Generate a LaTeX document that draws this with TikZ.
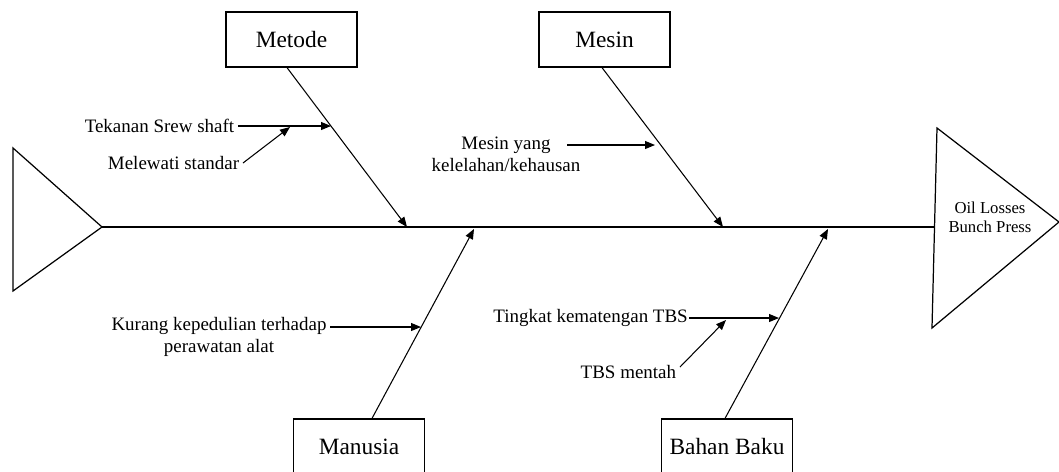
\documentclass[tikz,border=0pt]{standalone}
\usepackage{fontspec}
\setmainfont{Liberation Serif}
\usetikzlibrary{arrows.meta}

\tikzset{
  catbox/.style={draw,line width=0.7pt,minimum width=2.62cm,minimum height=1.1cm,
    font=\fontsize{13.3}{15}\selectfont},
  cause/.style={font=\fontsize{10.8}{12.5}\selectfont,inner sep=2pt,align=center},
  bone/.style={line width=0.6pt,-{Triangle[length=2mm,width=1.6mm]}},
  fishline/.style={line width=0.7pt},
}

\begin{document}
\begin{tikzpicture}[x=0.02cm,y=-0.02cm]
  \useasboundingbox (0,0) rectangle (1059,471);
  % tail and head
  \draw[fishline] (13,148) -- (102,227) -- (13,291) -- cycle;
  \draw[fishline] (937,128) -- (1059,222) -- (932,328) -- cycle;
  \node[font=\fontsize{9.5}{11}\selectfont,align=center] (effect) at (990,217) {Oil Losses\\Bunch Press};
  % spine
  \coordinate (tail) at (102,227);
  \coordinate (head) at (934,227);
  \draw[fishline] (tail) -- (head);
  % main categories
  \node[catbox] (metode)  at (291.5,39.5)  {Metode};
  \node[catbox] (mesin)   at (604.5,39.5)  {Mesin};
  \node[catbox] (manusia) at (359,446.5)   {Manusia};
  \node[catbox] (bahan)   at (727,446.5)   {Bahan Baku};
  \coordinate (m1) at (407,227);
  \coordinate (m2) at (723,227);
  \coordinate (m3) at (474,229);
  \coordinate (m4) at (828,229);
  \draw[bone] ([xshift=-0.09cm]metode.south) -- (m1);
  \draw[bone] ([xshift=-0.05cm]mesin.south) -- (m2);
  \draw[bone] ([xshift=0.26cm]manusia.north) -- (m3);
  \draw[bone] ([xshift=-0.04cm]bahan.north) -- (m4);
  % causes
  \coordinate (t1) at (331,126);
  \coordinate (j1) at (290,127);
  \coordinate (s2) at (567,145);
  \coordinate (t2) at (655,145);
  \coordinate (t3) at (421,327);
  \coordinate (t4) at (779,318);
  \coordinate (j4) at (726,320);
  \node[cause,anchor=east] (tekanan)  at (238,126) {Tekanan Srew shaft};
  \node[cause,anchor=east] (melewati) at (243,163) {Melewati standar};
  \node[cause] (kelelahan) at (506,154) {Mesin yang\\kelelahan/kehausan};
  \node[cause] (kepedulian) at (219,337) {Kurang kepedulian terhadap\\perawatan alat};
  \node[cause,anchor=east,inner sep=0.5pt] (kematangan) at (689,318) {Tingkat kematengan TBS};
  \node[cause,anchor=east] (mentah) at (680,372) {TBS mentah};
  \draw[bone] (tekanan) -- (t1);
  \draw[bone] (melewati.east) -- (j1);
  \draw[bone] (s2) -- (t2);
  \draw[bone] (kepedulian.east |- t3) -- (t3);
  \draw[bone] (kematangan.east) -- (t4);
  \draw[bone] ([yshift=0.1cm]mentah.east) -- (j4);
\end{tikzpicture}
\end{document}
